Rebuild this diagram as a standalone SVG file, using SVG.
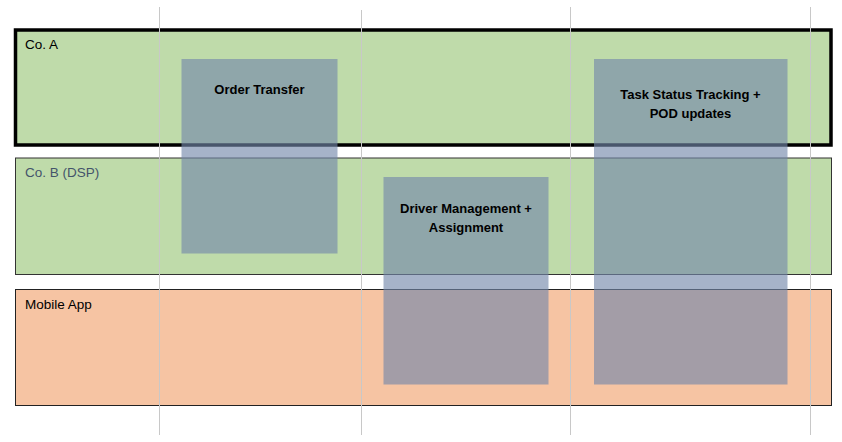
<svg xmlns="http://www.w3.org/2000/svg" width="842" height="442" viewBox="0 0 842 442">
<style>
.lbl{font-family:"Liberation Sans",Arial,sans-serif;font-size:13.5px;fill:#000}
.box{fill:#7387AA;fill-opacity:0.635}
.bt{font-family:"Liberation Sans",Arial,sans-serif;font-size:13px;font-weight:bold;fill:#000;text-anchor:middle}
.grid{stroke:#c8c8c8;stroke-width:1}
</style>
<rect width="842" height="442" fill="#fff"/>
<g id="coA">
<rect x="15.5" y="30" width="815.5" height="115" fill="#BFDBAA" stroke="#000" stroke-width="3.5"/>
<text class="lbl" x="25" y="49">Co. A</text>
</g>
<g id="coB">
<rect x="15.5" y="158" width="816" height="116.5" fill="#BFDBAA" stroke="#333" stroke-width="1"/>
<text class="lbl" x="25" y="177" style="fill:#44546A">Co. B (DSP)</text>
</g>
<g id="mobile">
<rect x="15.5" y="289.5" width="816" height="116" fill="#F6C4A3" stroke="#222" stroke-width="1"/>
<text class="lbl" x="25" y="309">Mobile App</text>
</g>
<g id="connectors">
<line class="grid" x1="159.5" y1="7" x2="159.5" y2="435"/>
<line class="grid" x1="361.5" y1="10" x2="361.5" y2="435"/>
<line class="grid" x1="570.5" y1="7" x2="570.5" y2="435"/>
<line class="grid" x1="810.5" y1="7" x2="810.5" y2="435"/>
</g>
<g id="orderTransfer">
<rect class="box" x="181.5" y="59" width="156" height="194.5"/>
<text class="bt" x="259.5" y="94">Order Transfer</text>
</g>
<g id="driverMgmt">
<rect class="box" x="383.5" y="177" width="165" height="207.5"/>
<text class="bt" x="466" y="213">Driver Management +</text>
<text class="bt" x="466" y="232">Assignment</text>
</g>
<g id="taskStatus">
<rect class="box" x="594" y="59" width="193.5" height="325.5"/>
<text class="bt" x="690.5" y="99">Task Status Tracking +</text>
<text class="bt" x="690.5" y="118">POD updates</text>
</g>
</svg>
